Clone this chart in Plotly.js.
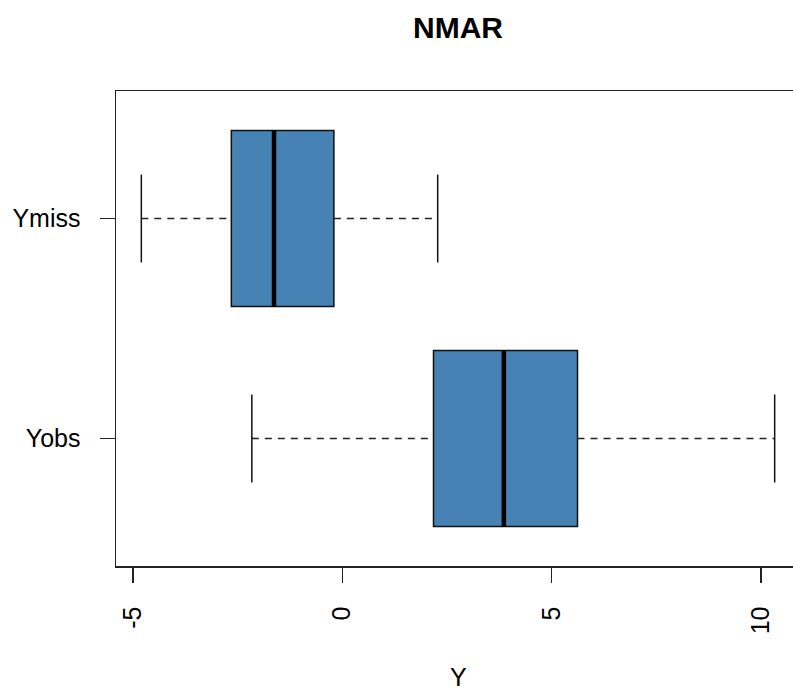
<!DOCTYPE html>
<html>
<head>
<meta charset="utf-8">
<script src="https://cdn.plot.ly/plotly-3.0.1.min.js"></script>
<style>
  html, body { margin: 0; padding: 0; overflow: hidden; background: #fff; }
  #chart { width: 800px; height: 691px; }
</style>
</head>
<body>
<div id="chart"></div>
<script>
// Categories and their positions on the category axis (R boxplot positions)
const categories = ["Yobs", "Ymiss"];
const positions  = [1, 2];

// Five-number summaries
const lowerWhisker = [-2.16, -4.80];
const q1Values     = [ 2.18, -2.65];
const medianValues = [ 3.86, -1.63];
const q3Values     = [ 5.62, -0.20];
const upperWhisker = [10.33,  2.28];

const xTickValues = [-5, 0, 5, 10];
const xTickLabels = ["-5", "0", "5", "10"];
const xAxisLabel = "Y";

const BOX_WIDTH = 0.8;
const CAP_HALF = 0.2;
const FONT = "Arial, 'Liberation Sans', sans-serif";

// Box bodies
const boxTrace = {
  type: "box",
  orientation: "h",
  y: positions,
  q1: q1Values,
  median: medianValues,
  q3: q3Values,
  lowerfence: lowerWhisker,
  upperfence: upperWhisker,
  width: BOX_WIDTH,
  showwhiskers: false,
  boxpoints: false,
  fillcolor: "#4682B4",
  line: { color: "#111111", width: 1.5 },
  hoverinfo: "skip",
  showlegend: false
};

// Dashed whiskers
const wx = [], wy = [];
positions.forEach((p, i) => {
  wx.push(lowerWhisker[i], q1Values[i], null, q3Values[i], upperWhisker[i], null);
  wy.push(p, p, null, p, p, null);
});
const whiskerTrace = {
  type: "scatter", mode: "lines", x: wx, y: wy,
  line: { color: "#222222", width: 1.6, dash: "7px,6px" },
  hoverinfo: "skip", showlegend: false, connectgaps: false
};

// Staples (caps)
const cx = [], cy = [];
positions.forEach((p, i) => {
  cx.push(lowerWhisker[i], lowerWhisker[i], null, upperWhisker[i], upperWhisker[i], null);
  cy.push(p - CAP_HALF, p + CAP_HALF, null, p - CAP_HALF, p + CAP_HALF, null);
});
const capTrace = {
  type: "scatter", mode: "lines", x: cx, y: cy,
  line: { color: "#111111", width: 1.5 },
  hoverinfo: "skip", showlegend: false
};

// Thick medians
const mx = [], my = [];
positions.forEach((p, i) => {
  mx.push(medianValues[i], medianValues[i], null);
  my.push(p - BOX_WIDTH / 2, p + BOX_WIDTH / 2, null);
});
const medianTrace = {
  type: "scatter", mode: "lines", x: mx, y: my,
  line: { color: "#000000", width: 4.5 },
  hoverinfo: "skip", showlegend: false
};

const layout = {
  width: 800,
  height: 691,
  margin: { l: 116, r: 0, t: 91, b: 125, pad: 0 },
  paper_bgcolor: "#ffffff",
  plot_bgcolor: "#ffffff",
  font: { family: FONT, color: "#000000", size: 25 },
  title: {
    text: "<b>NMAR</b>",
    font: { family: FONT, size: 30, color: "#000000" },
    x: 0.5, xref: "paper", xanchor: "center",
    y: 1 - 27 / 691, yref: "container", yanchor: "middle"
  },
  xaxis: {
    range: [-5.405, 10.935],
    tickmode: "array",
    tickvals: xTickValues,
    ticktext: xTickLabels,
    tickangle: -90,
    ticks: "outside",
    ticklen: 15,
    tickwidth: 1.5,
    tickcolor: "#222222",
    ticklabelstandoff: 14,
    showgrid: false,
    zeroline: false,
    showline: true,
    mirror: true,
    linecolor: "#222222",
    linewidth: 1.5,
    tickfont: { family: FONT, size: 25, color: "#000000" },
    automargin: false,
    fixedrange: true
  },
  yaxis: {
    range: [0.42, 2.58],
    tickmode: "array",
    tickvals: positions,
    ticktext: categories,
    ticks: "outside",
    ticklen: 15,
    tickwidth: 1.5,
    tickcolor: "#222222",
    ticklabelstandoff: 14,
    showgrid: false,
    zeroline: false,
    showline: true,
    mirror: true,
    linecolor: "#222222",
    linewidth: 1.5,
    tickfont: { family: FONT, size: 25, color: "#000000" },
    automargin: false,
    fixedrange: true
  },
  annotations: [{
    text: xAxisLabel,
    xref: "paper", yref: "paper",
    x: 0.5, y: -0.234,
    xanchor: "center", yanchor: "middle",
    showarrow: false,
    font: { family: FONT, size: 25, color: "#000000" }
  }],
  showlegend: false
};

Plotly.newPlot("chart", [boxTrace, whiskerTrace, capTrace, medianTrace], layout,
  { staticPlot: true, displayModeBar: false });
</script>
</body>
</html>
